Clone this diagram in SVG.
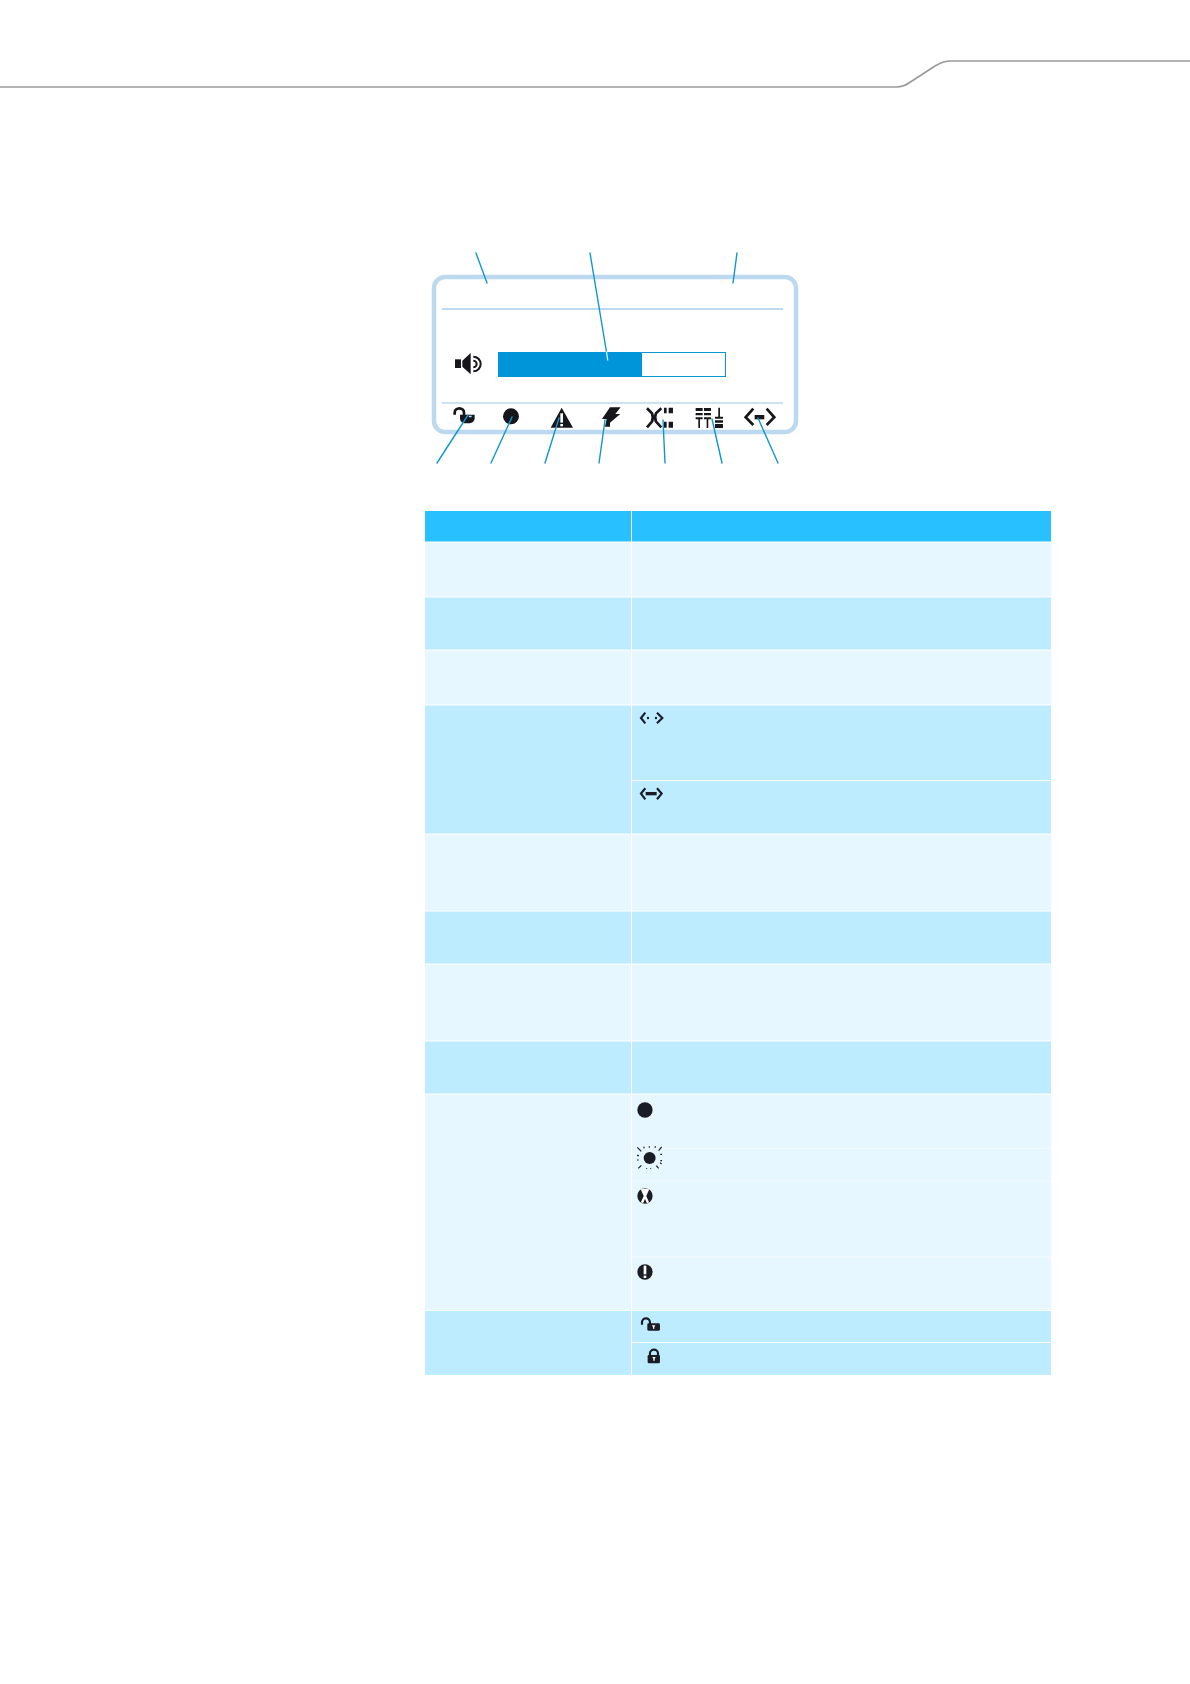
<svg xmlns="http://www.w3.org/2000/svg" width="1190" height="1684" viewBox="0 0 1190 1684">
<style>
.hd{fill:#29c0ff}.lt{fill:#e7f7ff}.md{fill:#bdebff}
.sep{stroke:#fff;stroke-width:1;fill:none}
.sepl{stroke:#f4fbff;stroke-width:1;fill:none}
.lead{stroke:#1098c8;stroke-width:1.4;fill:none;stroke-linecap:round}
.ink{fill:#1b1d26}.inks{stroke:#1b1d26;fill:none}
.dark{fill:#16161c}.darks{stroke:#16161c;fill:none}
</style>
<rect width="1190" height="1684" fill="#fff"/>
<path id="header-rule" d="M0 87H895C903 87 906 85 912 81L935 66C942 62 945 61 952 61H1190" fill="none" stroke="#9a9a9a" stroke-width="1.7"/>

<g id="display">
<rect x="434" y="277" width="362" height="155" rx="11" fill="#fff" stroke="#bcd9f0" stroke-width="4.5"/>
<path d="M442 309H783" stroke="#bdd9ef" stroke-width="1.8"/>
<path d="M442 403H783" stroke="#bdd9ef" stroke-width="1.4"/>
</g>
<g id="level-bar">
<rect x="498.5" y="352.5" width="227" height="24" fill="#fff" stroke="#0a97d6" stroke-width="1"/>
<rect x="498" y="352" width="144" height="25" fill="#0095d9"/>
</g>
<g id="icon-speaker" transform="translate(420 240) scale(.3333)">
<rect class="dark" x="105" y="358" width="18" height="26"/>
<path class="dark" d="M127 362L152 339V403L127 380Z"/>
<path class="darks" stroke-width="6" d="M160 350A22 22 0 0 1 160 394M160 362A10 10 0 0 1 160 382"/>
</g>
<g id="icon-lock-open" transform="translate(420 240) scale(.3333)">
<path class="darks" stroke-width="8" d="M104 524V518A14 13 0 0 1 132 518V528"/>
<path class="dark" d="M120 524H164V534C164 544 155 550 146 550H136C127 550 120 544 120 534Z"/>
<path fill="#bcd9f0" d="M146 527h10l-2 5h-7z"/>
</g>
<g id="icon-circle" transform="translate(420 240) scale(.3333)"><circle class="dark" cx="273" cy="529" r="24"/></g>
<g id="icon-warning" transform="translate(420 240) scale(.3333)">
<path class="dark" d="M425 503L459 563H392Z"/>
<rect x="421" y="520" width="8" height="28" fill="#fff"/><rect x="421" y="552" width="8" height="7" fill="#fff"/>
</g>
<g id="icon-bolt" transform="translate(420 240) scale(.3333)">
<path class="dark" d="M570 502H602L586 522H601L570 548V560H555L560 537H546Z"/>
</g>
<g id="icon-antenna" transform="translate(420 240) scale(.3333)">
<path class="darks" stroke-width="8" d="M681 505L696 520Q701 532 696 545L681 562M724 505L708 520Q703 532 708 545L724 562"/>
<path class="dark" d="M732 503h8v17h-8zM746 503h13v17h-13zM732 545h8v18h-8zM746 545h13v18h-13z"/>
</g>
<g id="icon-mixer" transform="translate(420 240) scale(.3333)">
<path class="dark" d="M827 504h21v9h-21zM852 504h21v9h-21zM827 519h21v7h-21zM852 519h21v7h-21zM827 532h21v6h-21zM835 538h5v26h-5zM852 532h21v6h-21zM860 538h5v26h-5zM895 503h5v27h-5zM885 530h24v6h-24zM885 541h24v7h-24zM885 552h24v12h-24z"/>
</g>
<g id="icon-link" transform="translate(420 240) scale(.3333)">
<path class="darks" stroke-width="8" d="M1000 506L977 532L1000 555M1040 506L1063 532L1040 555"/>
<rect class="dark" x="1004" y="525" width="29" height="13"/>
</g>

<g id="table">
<rect class="hd" x="425" y="511" width="626" height="31"/>
<rect class="lt" x="425" y="542" width="626" height="55"/>
<rect class="md" x="425" y="597" width="626" height="53"/>
<rect class="lt" x="425" y="650" width="626" height="55"/>
<rect class="md" x="425" y="705" width="626" height="129"/>
<rect class="lt" x="425" y="834" width="626" height="77"/>
<rect class="md" x="425" y="911" width="626" height="53"/>
<rect class="lt" x="425" y="964" width="626" height="77"/>
<rect class="md" x="425" y="1041" width="626" height="53"/>
<rect class="lt" x="425" y="1094" width="626" height="216"/>
<rect class="md" x="425" y="1310" width="626" height="65"/>
<path class="sep" d="M631.5 511V1375M425 542H1051M425 597H1051M425 650H1051M425 705H1051M425 834H1051M425 911H1051M425 964H1051M425 1041H1051M425 1094H1051M425 1310.5H1051M632 780.5H1051M632 1342.5H1051"/>
<path class="sepl" d="M662 1148.5H1051M632 1181H1051M632 1257H1051"/>
</g>

<g id="connectors">
<path class="lead" d="M476 253L487 283M590 253L606.5 352M737 253L733 283M437 463L468 415M491 463L512 417M545 463L559 418M599 463L605 420M665 463L663 420M722 463L712 419M778 463L758 418"/>
<path d="M606.5 352L607.7 360" stroke="#cfeaf7" stroke-width="1.4" fill="none" stroke-linecap="round"/>
</g>

<g id="icon-table-link-off" transform="translate(420 500) scale(.3333)">
<path class="inks" stroke-width="6.5" d="M676 638L663 654L676 670M711 638L727 654L711 670"/>
<circle class="ink" cx="684" cy="654" r="3.5"/><circle class="ink" cx="708" cy="654" r="3.5"/>
</g>
<g id="icon-table-link-on" transform="translate(420 500) scale(.3333)">
<path class="inks" stroke-width="6.5" d="M676 865L663 881L676 898M711 865L725 881L711 898"/>
<rect class="ink" x="677" y="876" width="33" height="10"/>
</g>
<g id="icon-table-dot" transform="translate(420 1090) scale(.3333)"><circle class="ink" cx="675" cy="60" r="23"/></g>
<g id="icon-table-sun" transform="translate(420 1090) scale(.3333)">
<circle class="ink" cx="689" cy="204" r="18"/>
<path class="inks" stroke-width="3.5" d="M652 172L664 184M716 182L725 171M655 235L664 226M709 227L716 235M688 169V173M704 173L707 169M671 170L673 175M651 210H656M721 193H726M721 212H726M651 196L657 197M680 234V236M692 234V236M720 218L725 222"/>
</g>
<g id="icon-table-x" transform="translate(420 1090) scale(.3333)">
<circle class="ink" cx="675" cy="318" r="23"/>
<path stroke="#fff" stroke-width="7" fill="none" d="M666 298L684 338M684 298L666 338"/>
<path fill="#fff" d="M663 296H687L678 312H672Z"/>
</g>
<g id="icon-table-warn" transform="translate(420 1090) scale(.3333)">
<circle class="ink" cx="675" cy="546" r="23"/>
<rect x="671" y="527" width="8" height="26" fill="#fff"/><rect x="671" y="557" width="8" height="7" fill="#fff"/>
</g>
<g id="icon-table-open" transform="translate(420 1090) scale(.3333)">
<path class="inks" stroke-width="6.5" d="M666 704V697A12 12 0 0 1 690 697V708"/>
<rect class="ink" x="682" y="700" width="38" height="22" rx="4"/>
<path fill="#fff" d="M696 706h10l-3 5v5h-4v-5z"/>
</g>
<g id="icon-table-closed" transform="translate(420 1090) scale(.3333)">
<path class="inks" stroke-width="6.5" d="M690 797V790A12 11 0 0 1 714 790V797"/>
<rect class="ink" x="683" y="795" width="37" height="25" rx="4"/>
<path fill="#fff" d="M697 801h10l-3 5v6h-4v-6z"/>
</g>
</svg>
